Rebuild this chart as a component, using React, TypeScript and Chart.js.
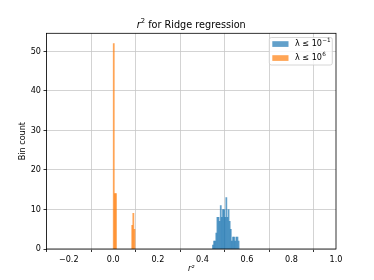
import React, { useEffect, useRef } from "react";
import { Chart, registerables } from "chart.js";

Chart.register(...registerables);

// Histogram data
const binWidth = 0.005;
const blueBinStart = 0.445; // left edge of the first blue bin
const blueCounts = [1, 2, 2, 4, 8, 8, 7, 11, 8, 10, 10, 8, 13, 8, 10, 7, 5, 2, 3, 3, 2, 3, 3, 2];
const orangeCenters = [0.002, 0.007, 0.012, 0.085, 0.09, 0.095];
const orangeCounts = [52, 14, 14, 6, 9, 5];
const seriesBase = ["λ ≤ 10", "λ ≤ 10"];
const seriesSup = ["−1", "6"];
const seriesLabels = ["λ ≤ 10⁻¹", "λ ≤ 10⁶"];
const xRange = [-0.3, 1.0];
const yRange = [0, 54.6];
const xStep = 0.2;
const yStep = 10;

const BLUE = "rgba(31,119,180,0.7)";
const ORANGE = "rgba(255,127,14,0.7)";
const FONT = "'DejaVu Sans', sans-serif";

const framePlugin = {
  id: "frame",
  afterDatasetsDraw(chart: any) {
    const { ctx, chartArea: a } = chart;
    ctx.save();
    ctx.strokeStyle = "#000";
    ctx.lineWidth = 0.8;
    ctx.strokeRect(a.left, a.top, a.right - a.left, a.bottom - a.top);
    ctx.restore();
  },
};

const titlePlugin = {
  id: "mplTitle",
  afterDraw(chart: any) {
    const { ctx, chartArea: a } = chart;
    ctx.save();
    const size = 9.7;
    const f1 = `italic ${size}px ${FONT}`;
    const f2 = `${size * 0.7}px ${FONT}`;
    const f3 = `${size}px ${FONT}`;
    const t1 = "r", t2 = "2", t3 = " for Ridge regression";
    ctx.font = f1; const w1 = ctx.measureText(t1).width;
    ctx.font = f2; const w2 = ctx.measureText(t2).width;
    ctx.font = f3; const w3 = ctx.measureText(t3).width;
    const total = w1 + w2 + w3;
    let x = (a.left + a.right) / 2 - total / 2;
    const y = 25;
    ctx.fillStyle = "#000";
    ctx.textBaseline = "middle";
    ctx.textAlign = "left";
    ctx.font = f1; ctx.fillText(t1, x, y); x += w1;
    ctx.font = f2; ctx.fillText(t2, x, y - 3.5); x += w2;
    ctx.font = f3; ctx.fillText(t3, x, y);
    ctx.restore();
  },
};

const legendPlugin = {
  id: "mplLegend",
  afterDraw(chart: any) {
    const { ctx } = chart;
    const ds = chart.data.datasets;
    ctx.save();
    const bx = 269.3, by = 37.5, bw = 63, bh = 27.5, r = 2;
    ctx.beginPath();
    ctx.moveTo(bx + r, by);
    ctx.lineTo(bx + bw - r, by);
    ctx.quadraticCurveTo(bx + bw, by, bx + bw, by + r);
    ctx.lineTo(bx + bw, by + bh - r);
    ctx.quadraticCurveTo(bx + bw, by + bh, bx + bw - r, by + bh);
    ctx.lineTo(bx + r, by + bh);
    ctx.quadraticCurveTo(bx, by + bh, bx, by + bh - r);
    ctx.lineTo(bx, by + r);
    ctx.quadraticCurveTo(bx, by, bx + r, by);
    ctx.closePath();
    ctx.fillStyle = "rgba(255,255,255,0.8)";
    ctx.fill();
    ctx.strokeStyle = "#cccccc";
    ctx.lineWidth = 0.8;
    ctx.stroke();
    ds.forEach((d: any, i: number) => {
      const cy = 44 + i * 14;
      ctx.fillStyle = d.backgroundColor;
      ctx.fillRect(272.3, cy - 2.8, 16.2, 5.7);
      ctx.fillStyle = "#000";
      ctx.textBaseline = "middle";
      ctx.textAlign = "left";
      ctx.font = `8.1px ${FONT}`;
      ctx.fillText(seriesBase[i], 295, cy);
      const w = ctx.measureText(seriesBase[i]).width;
      ctx.font = `5.7px ${FONT}`;
      ctx.fillText(seriesSup[i], 295 + w + 0.3, cy - 3);
    });
    ctx.restore();
  },
};

function fmt(v: number) {
  const n = Math.abs(v) < 1e-9 ? 0 : v;
  return n.toFixed(1).replace("-", "\u2212");
}

export default function App() {
  const ref = useRef<HTMLCanvasElement | null>(null);
  useEffect(() => {
    if (!ref.current) return;
    const blueData = blueCounts.map((c, i) => ({ x: blueBinStart + binWidth * (i + 0.5), y: c }));
    const orangeData = orangeCenters.map((x, i) => ({ x, y: orangeCounts[i] }));
    const chart = new Chart(ref.current, {
      type: "bar",
      data: {
        datasets: [
          { label: seriesLabels[0], data: blueData, backgroundColor: BLUE, borderWidth: 0 },
          { label: seriesLabels[1], data: orangeData, backgroundColor: ORANGE, borderWidth: 0 },
        ],
      },
      plugins: [framePlugin, titlePlugin, legendPlugin],
      options: {
        animation: false,
        responsive: false,
        maintainAspectRatio: false,
        devicePixelRatio: 1,
        layout: { padding: { left: 0, top: 33.3, right: 38, bottom: 0 } },
        datasets: { bar: { barPercentage: 1, categoryPercentage: 1, grouped: false } } as any,
        plugins: { legend: { display: false }, title: { display: false }, tooltip: { enabled: false } },
        scales: {
          x: {
            type: "linear",
            offset: false,
            min: xRange[0],
            max: xRange[1],
            border: { display: false },
            grid: { color: "#c8c8c8", lineWidth: 0.8, tickColor: "#000", tickLength: 3, tickWidth: 0.8 },
            ticks: {
              stepSize: xStep,
              includeBounds: false,
              padding: 3,
              color: "#000",
              font: { family: FONT, size: 8.1 },
              maxRotation: 0,
              autoSkip: false,
              callback: (v: any) => fmt(Number(v)),
            },
            title: {
              display: true,
              text: "r²",
              color: "#000",
              font: { family: FONT, size: 8.1, style: "italic" },
              padding: { top: 0, bottom: 6 },
            },
            afterFit: (s: any) => { s.height = 31; },
          },
          y: {
            type: "linear",
            min: yRange[0],
            max: yRange[1],
            border: { display: false },
            grid: { color: "#c8c8c8", lineWidth: 0.8, tickColor: "#000", tickLength: 3, tickWidth: 0.8 },
            ticks: {
              stepSize: yStep,
              includeBounds: false,
              padding: 2.5,
              color: "#000",
              font: { family: FONT, size: 8.1 },
              callback: (v: any) => String(Math.round(Number(v))),
            },
            title: {
              display: true,
              text: "Bin count",
              color: "#000",
              font: { family: FONT, size: 8.1 },
              padding: { top: 18.5, bottom: 0 },
            },
            afterFit: (s: any) => { s.width = 46.5; },
          },
        },
      } as any,
    });
    return () => chart.destroy();
  }, []);
  return (
    <div style={{ position: "fixed", left: 0, top: 0, width: 374, height: 280, background: "#fff" }}>
      <canvas ref={ref} width={374} height={280} style={{ display: "block", width: 374, height: 280 }} />
    </div>
  );
}
